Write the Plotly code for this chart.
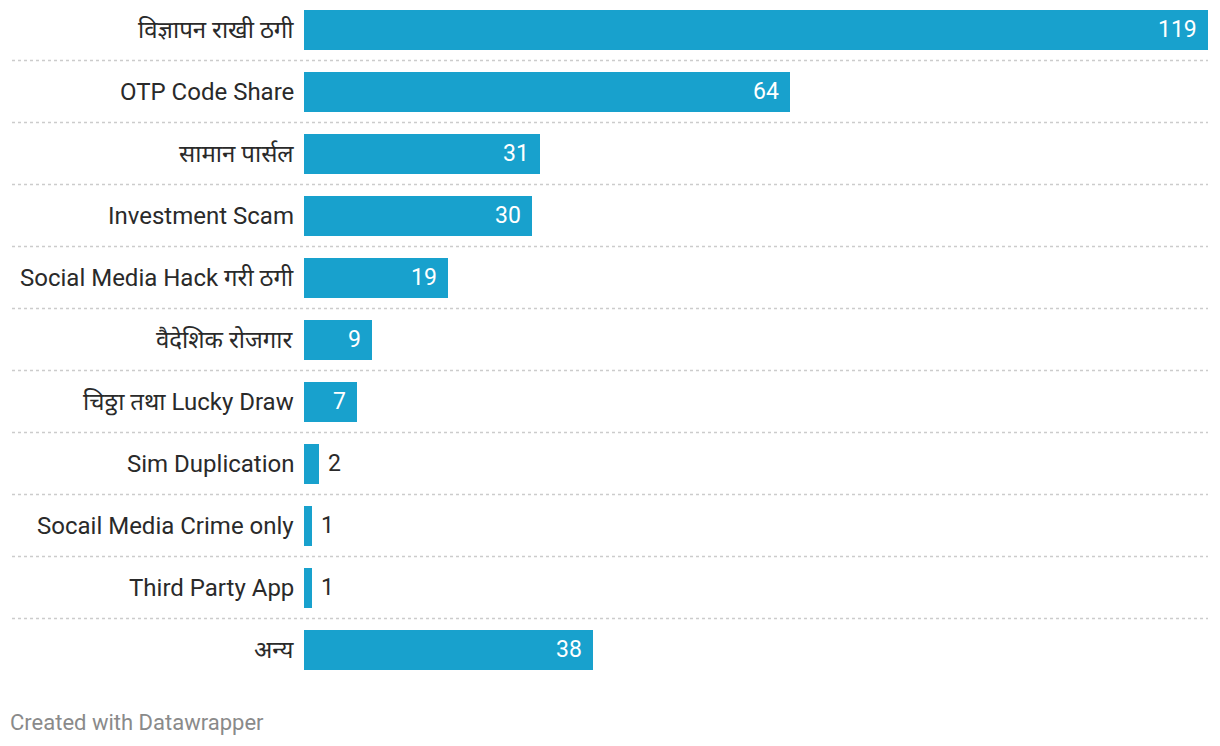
import plotly.graph_objects as go

categories = ["विज्ञापन राखी ठगी", "OTP Code Share", "सामान पार्सल", "Investment Scam",
              "Social Media Hack गरी ठगी", "वैदेशिक रोजगार", "चिठ्ठा तथा Lucky Draw",
              "Sim Duplication", "Socail Media Crime only", "Third Party App", "अन्य"]
values = [119, 64, 31, 30, 19, 9, 7, 2, 1, 1, 38]

W, H = 1220, 746
L, R = 304, 12
ROW = 62
TOP_CENTER = 29.5
PLOT_H = 680
FONT = "Roboto, 'Noto Sans', 'Noto Sans Devanagari', sans-serif"

y0 = -TOP_CENTER / ROW
y1 = y0 + PLOT_H / ROW
n = len(categories)
ypos = list(range(n))

fig = go.Figure(go.Bar(
    x=values, y=ypos, orientation="h", width=40 / ROW,
    marker=dict(color="#18a1cd", line=dict(width=0)),
    hoverinfo="skip",
))

ann = []
for i, (c, v) in enumerate(zip(categories, values)):
    ann.append(dict(x=0, y=i, xref="x", yref="y", text=c, showarrow=False,
                    xanchor="right", xshift=-8, font=dict(family=FONT, size=24, color="#2a2a2a")))
    inside = v >= 5
    ann.append(dict(x=v, y=i, xref="x", yref="y", text=str(v), showarrow=False,
                    xanchor="right" if inside else "left", xshift=-9 if inside else 7,
                    font=dict(family=FONT, size=23, color="#ffffff" if inside else "#2a2a2a")))

plot_w = W - L - R
ann.append(dict(x=(8 - L) / plot_w, y=(PLOT_H - 722) / PLOT_H, xref="paper", yref="paper",
                text="Created with Datawrapper", showarrow=False, xanchor="left", yanchor="middle",
                font=dict(family=FONT, size=22, color="#8a8a8a")))

shapes = []
for i in range(n - 1):
    shapes.append(dict(type="line", xref="paper", yref="y",
                       x0=(12 - L) / plot_w, x1=1.0, y0=i + 0.5, y1=i + 0.5,
                       line=dict(color="#cccccc", width=1.5, dash="dot"), layer="below"))

fig.update_layout(
    width=W, height=H,
    margin=dict(l=L, r=R, t=0, b=H - PLOT_H, pad=0),
    paper_bgcolor="white", plot_bgcolor="white",
    showlegend=False,
    bargap=0,
    xaxis=dict(range=[0, 119], visible=False, fixedrange=True),
    yaxis=dict(range=[y1, y0], visible=False, fixedrange=True),
    annotations=ann, shapes=shapes,
    font=dict(family=FONT),
)

fig.write_html("out.html", config={"displayModeBar": False})
